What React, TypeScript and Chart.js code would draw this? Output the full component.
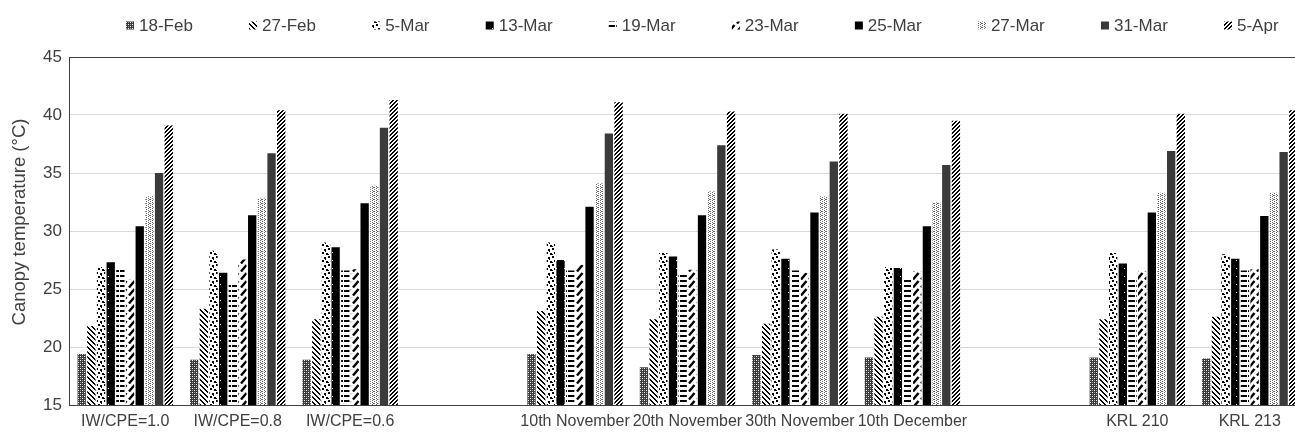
import React, { useEffect, useRef } from 'react';
import { Chart, registerables } from 'chart.js';

Chart.register(...registerables);

const categories = ['IW/CPE=1.0', 'IW/CPE=0.8', 'IW/CPE=0.6', '', '10th November', '20th November', '30th November', '10th December', '', 'KRL 210', 'KRL 213'];
const seriesLabels = ['18-Feb', '27-Feb', '5-Mar', '13-Mar', '19-Mar', '23-Mar', '25-Mar', '27-Mar', '31-Mar', '5-Apr'];

const feb18 = [19.4, 18.9, 18.9, null, 19.4, 18.25, 19.3, 19.1, null, 19.1, 19.0];
const feb27 = [21.8, 23.3, 22.4, null, 23.1, 22.4, 22.0, 22.6, null, 22.4, 22.6];
const mar5 = [26.9, 28.3, 29.0, null, 29.0, 28.1, 28.4, 26.9, null, 28.1, 28.0];
const mar13 = [27.3, 26.4, 28.6, null, 27.5, 27.8, 27.6, 26.8, null, 27.2, 27.6];
const mar19 = [26.9, 25.5, 26.6, null, 26.6, 26.2, 26.6, 25.8, null, 25.9, 26.6];
const mar23 = [25.8, 27.55, 26.7, null, 27.1, 26.65, 26.4, 26.5, null, 26.5, 26.7];
const mar25 = [30.4, 31.35, 32.4, null, 32.1, 31.35, 31.6, 30.4, null, 31.6, 31.3];
const mar27 = [33.0, 32.8, 33.9, null, 34.1, 33.4, 33.0, 32.45, null, 33.3, 33.3];
const mar31 = [35.0, 36.7, 38.9, null, 38.4, 37.4, 36.0, 35.7, null, 36.9, 36.8];
const apr5 = [39.1, 40.4, 41.3, null, 41.1, 40.3, 40.1, 39.5, null, 40.1, 40.4];

const seriesValues = [feb18, feb27, mar5, mar13, mar19, mar23, mar25, mar27, mar31, apr5];
const yTicks = [15, 20, 25, 30, 35, 40, 45];
const yTitle = 'Canopy temperature (°C)';

const FONT = '"Liberation Sans", Arial, sans-serif';
const TEXT = '#404040';

type Painter = (g: CanvasRenderingContext2D, w: number, h: number) => void;

function makePattern(w: number, h: number, paint: Painter): CanvasPattern | string {
  const c = document.createElement('canvas');
  c.width = w;
  c.height = h;
  const g = c.getContext('2d');
  if (!g) return '#666';
  paint(g, w, h);
  return g.createPattern(c, 'repeat') || '#666';
}

function px(g: CanvasRenderingContext2D, color: string, pts: number[][]) {
  g.fillStyle = color;
  pts.forEach(([x, y, w = 1, h = 1]) => g.fillRect(x, y, w, h));
}

function buildFills(): (CanvasPattern | string)[] {
  const fills: (CanvasPattern | string)[] = [];
  // 18-Feb: dark mottled checker
  fills.push(makePattern(4, 4, (g, w, h) => {
    g.fillStyle = '#3a3a3a'; g.fillRect(0, 0, w, h);
    px(g, '#ffffff', [[0, 0], [2, 2]]);
    px(g, '#a0a0a0', [[2, 0], [0, 2]]);
  }));
  // 27-Feb: wide downward diagonal "\"
  fills.push(makePattern(5, 5, (g, w, h) => {
    g.fillStyle = '#fff'; g.fillRect(0, 0, w, h);
    for (let y = 0; y < h; y++) for (let x = 0; x < w; x++) {
      const d = ((x - y) % 5 + 5) % 5;
      if (d === 0 || d === 1) px(g, '#000', [[x, y]]);
    }
  }));
  // 5-Mar: large confetti
  fills.push(makePattern(8, 8, (g, w, h) => {
    g.fillStyle = '#fff'; g.fillRect(0, 0, w, h);
    px(g, '#000', [[0, 0, 2, 2], [4, 1, 2, 2], [2, 4, 2, 2], [6, 5, 2, 2], [0, 6, 1, 1], [5, 3, 1, 1]]);
  }));
  // 13-Mar: black with small white dots
  fills.push(makePattern(8, 8, (g, w, h) => {
    g.fillStyle = '#000'; g.fillRect(0, 0, w, h);
    px(g, '#ffffff', [[4, 4]]);
  }));
  // 19-Mar: dashed horizontal
  fills.push(makePattern(8, 5, (g, w, h) => {
    g.fillStyle = '#fff'; g.fillRect(0, 0, w, h);
    px(g, '#000', [[0, 0, 7, 2]]);
  }));
  // 23-Mar: dashed upward diagonal "/"
  fills.push(makePattern(8, 8, (g, w, h) => {
    g.fillStyle = '#fff'; g.fillRect(0, 0, w, h);
    g.strokeStyle = '#000'; g.lineWidth = 2.4; g.lineCap = 'butt';
    g.beginPath(); g.moveTo(1, 7.5); g.lineTo(6.5, 1); g.stroke();
  }));
  // 25-Mar: solid black
  fills.push('#000000');
  // 27-Mar: light dotted grey
  fills.push(makePattern(4, 4, (g, w, h) => {
    g.fillStyle = '#fff'; g.fillRect(0, 0, w, h);
    px(g, '#6a6a6a', [[0, 0], [2, 1], [0, 2], [2, 3], [1, 3]]);
  }));
  // 31-Mar: solid dark grey
  fills.push('#3b3b3b');
  // 5-Apr: dense upward diagonal "/"
  fills.push(makePattern(4, 4, (g, w, h) => {
    g.fillStyle = '#fff'; g.fillRect(0, 0, w, h);
    for (let y = 0; y < h; y++) for (let x = 0; x < w; x++) {
      const d = (x + y) % 4;
      if (d === 0 || d === 1) px(g, '#000', [[x, y]]);
    }
  }));
  return fills;
}

const legendPlugin = {
  id: 'patternLegend',
  afterDraw(chart: any) {
    const ctx: CanvasRenderingContext2D = chart.ctx;
    const area = chart.chartArea;
    const box = 8;
    const gap = 5;
    const spacing = 56.2;
    let x = area.left + 57;
    const y = 25.5;
    ctx.save();
    ctx.font = `17px ${FONT}`;
    ctx.textBaseline = 'middle';
    ctx.textAlign = 'left';
    chart.data.datasets.forEach((ds: any) => {
      ctx.fillStyle = ds.backgroundColor;
      ctx.fillRect(x, y - box / 2, box, box);
      ctx.fillStyle = TEXT;
      ctx.fillText(ds.label, x + box + gap, y + 0.5);
      const tw = ctx.measureText(ds.label).width;
      x += box + gap + tw + spacing;
    });
    ctx.restore();
  },
};

const yTitlePlugin = {
  id: 'yTitleText',
  afterDraw(chart: any) {
    const ctx: CanvasRenderingContext2D = chart.ctx;
    const area = chart.chartArea;
    ctx.save();
    ctx.font = `18.5px ${FONT}`;
    ctx.fillStyle = TEXT;
    ctx.textAlign = 'center';
    ctx.textBaseline = 'middle';
    ctx.translate(20, (area.top + area.bottom) / 2 - 9);
    ctx.rotate(-Math.PI / 2);
    ctx.fillText(yTitle, 0, 0);
    ctx.restore();
  },
};

export default function App() {
  const ref = useRef<HTMLCanvasElement | null>(null);

  useEffect(() => {
    if (!ref.current) return;
    const fills = buildFills();
    const chart = new Chart(ref.current, {
      type: 'bar',
      data: {
        labels: categories,
        datasets: seriesLabels.map((label, i) => ({
          label,
          data: seriesValues[i],
          backgroundColor: fills[i] as any,
          borderWidth: 0,
          categoryPercentage: 0.86,
          barPercentage: 0.86,
        })),
      },
      options: {
        animation: false,
        responsive: false,
        devicePixelRatio: 1,
        layout: { padding: { top: 57, left: 0, right: 0, bottom: 0 } },
        plugins: {
          legend: { display: false },
          tooltip: { enabled: false },
        },
        scales: {
          x: {
            grid: { display: false, drawTicks: false },
            border: { display: true, color: '#404040', width: 1 },
            ticks: {
              color: TEXT,
              font: { family: FONT, size: 16 },
              padding: 7,
              autoSkip: false,
              maxRotation: 0,
              minRotation: 0,
            },
            afterFit: (s: any) => { s.height = 27; },
          },
          y: {
            min: 15,
            max: 45,
            afterBuildTicks: (s: any) => { s.ticks = yTicks.map((v) => ({ value: v })); },
            grid: {
              drawTicks: false,
              color: (c: any) => (c.tick && (c.tick.value === 45 || c.tick.value === 15) ? '#404040' : '#d9d9d9'),
              lineWidth: 1,
            },
            border: { display: true, color: '#404040', width: 1 },
            ticks: {
              color: TEXT,
              font: { family: FONT, size: 17 },
              padding: 7,
            },
            title: { display: false },
            afterFit: (s: any) => { s.width = 69; },
          },
        },
      },
      plugins: [legendPlugin, yTitlePlugin],
    });
    return () => chart.destroy();
  }, []);

  return (
    <div style={{ position: 'absolute', left: 0, top: 0, width: 1295, height: 432, overflow: 'hidden', background: '#fff' }}>
      <canvas ref={ref} width={1306} height={432} style={{ display: 'block', width: 1306, height: 432 }} />
    </div>
  );
}
